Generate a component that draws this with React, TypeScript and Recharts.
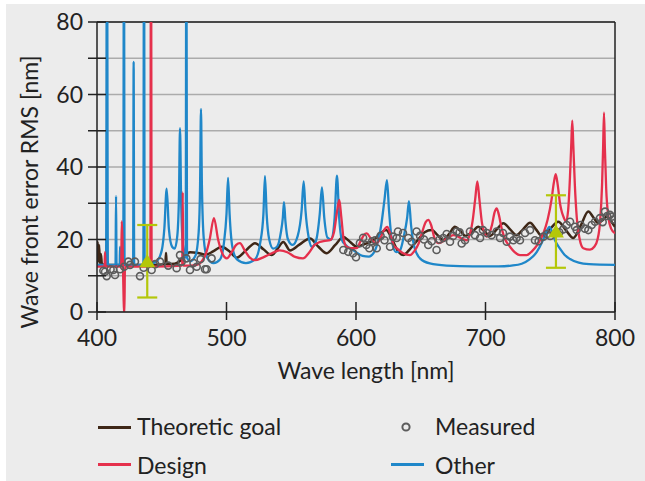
import {
  ComposedChart,
  Line,
  Scatter,
  ErrorBar,
  XAxis,
  YAxis,
  CartesianGrid,
  ReferenceLine,
} from "recharts";

type Pt = [number, number];

const FONT = "Lato, 'Noto Sans', sans-serif";
const TEXT = "#222";

const xTicks = [400, 500, 600, 700, 800];
const yTicks = [0, 10, 20, 30, 40, 50, 60, 70, 80];

// wave length [nm], wave front error RMS [nm]
const goalPts: Pt[] = [
  [400, 13], [400.5, 19.4], [401, 14], [401.6, 18.5], [402.2, 13.5], [403, 16], [403.8, 13.2],
  [410, 13], [420, 13], [430, 13], [440, 13], [452.8, 13.2], [453.3, 16.3], [453.8, 13.2],
  [460, 13.3], [465, 14.3], [471.8, 16.5], [478, 16.3], [484, 15.8], [490, 16.8], [496.3, 18],
  [502, 16.8], [507.9, 15], [515, 17], [522, 19], [528.5, 17.3], [534.9, 15.7], [539.5, 17.5],
  [543.9, 19.3], [549, 17], [556, 18.5], [564.5, 20.3], [571, 18], [577.4, 16.2], [584, 18.5],
  [590.2, 20.7], [595.5, 19.3], [600.5, 18], [607, 18.8], [613.4, 19.8], [618.5, 21.5],
  [623.2, 22.6], [628, 20], [632, 17], [636.5, 15.7], [642, 17.5], [648, 20], [653, 22],
  [658.4, 22.6], [663, 21.2], [667.4, 19.8], [672, 21.6], [676.4, 23.5], [680.3, 22.5],
  [684.5, 21], [689.5, 22], [694.4, 23.5], [699, 22.3], [703.5, 21], [708.5, 22.7], [713.8, 24.5],
  [719, 22.8], [724, 21.2], [729, 22.8], [734.4, 24.6], [739, 22.8], [743.4, 21], [750, 23],
  [756.2, 24.9], [762, 22.6], [767.8, 20.4], [773.5, 23.8], [779.4, 27.7], [783.5, 26],
  [787.1, 24.5], [790.5, 25.4], [793.6, 26.3], [797, 25], [800, 23.5],
];

const designPts: Pt[] = [
  [400, 12.5], [405.8, 12.5], [406.2, 16.5], [406.6, 12.5], [418.7, 12.5], [419.1, 25],
  [421.1, -1], [421.6, 12.5], [441.2, 12.5], [441.7, 120], [442.2, 12.5], [465.8, 12.8],
  [466.2, 33], [466.6, 12.8], [472, 12.8], [477, 13], [481, 14], [484, 16], [487, 20],
  [490.3, 25.9], [493.5, 20], [497, 16], [500.2, 14.8], [504, 16.5], [507.5, 18.5], [510.4, 19],
  [514, 17], [518, 15], [522, 14.3], [528, 15], [535, 16.2], [541, 17], [547, 16.5], [553, 15.2],
  [559, 14.8], [564, 16.5], [568, 18.5], [572, 19.3], [576, 19.6], [580, 19.8], [583, 22],
  [585.5, 28], [587.1, 30.9], [588.7, 26], [590.5, 20], [592.8, 18], [596.5, 17.6], [600.5, 17.6],
  [603.5, 19.5], [606, 21.2], [608.3, 21.7], [611, 20.5], [613.5, 19.3], [616, 19], [619, 20.5],
  [621.5, 22.5], [624.2, 23.5], [626.5, 21.5], [629, 18.5], [631.4, 17.6], [636, 16.3],
  [641.7, 15.7], [645, 16.8], [648.5, 19], [651.5, 22.5], [653.8, 24.8], [655.8, 25.4], [658, 24],
  [660.5, 20.5], [663.6, 19], [667.5, 19.6], [671, 20.5], [675.1, 21.2], [679, 20.8], [682, 20.2],
  [685.5, 19.8], [688, 21.5], [690, 25], [692, 31], [693.7, 36], [695.3, 31], [697.3, 24.5],
  [699, 22], [700.9, 20.8], [703, 21.8], [705, 24], [707, 27.5], [708.6, 28.6], [710.2, 27],
  [712.5, 23], [715.5, 19.8], [718.9, 18], [722.5, 16.5], [726.6, 15.7], [731.8, 15.7], [736, 16.8],
  [740, 18.5], [744.7, 21.7], [748, 25.5], [751, 31], [752.7, 35.5], [754.2, 38], [755.8, 35],
  [757.5, 30], [759, 27.5], [760.5, 26], [762.2, 24.9], [763.8, 28], [765.2, 37], [766.2, 46],
  [767, 52.8], [767.8, 46], [769, 35], [770.5, 26], [772.5, 20.5], [775.5, 17.6], [780.7, 17.2],
  [784, 18], [786.5, 20], [788.5, 25], [790, 35], [790.8, 45], [791.5, 55], [792.2, 45], [793.2, 34],
  [795, 26], [797, 23], [800, 21.7],
];

const otherPts: Pt[] = [
  [400, 13], [407, 13], [407.7, 120], [408.4, 13], [414.3, 13], [414.7, 32], [415.1, 13],
  [417.5, 13], [417.8, 18], [418.1, 13], [420.3, 13], [420.8, 120], [421.3, 13], [427.9, 13],
  [428.3, 69], [428.7, 13], [435.8, 13], [436.3, 120], [436.8, 13], [446, 14], [450, 17],
  [452, 23], [453.8, 34], [455.5, 23], [458, 18], [460, 17.5], [462, 21], [463.3, 32], [464.1, 50.7],
  [465, 30], [466.5, 18], [468.5, 15], [469, 120], [469.5, 15], [472, 14], [476, 15.5], [478.5, 22],
  [479.6, 35], [480.3, 56], [481, 35], [482.5, 20], [485, 15], [490, 13.5], [495, 14.5], [498, 19],
  [500, 27], [501.2, 37], [502.4, 27], [504.5, 18], [508, 14.5], [515, 13.5], [522, 14.5], [526, 19],
  [528.5, 27], [529.7, 37.5], [531, 27], [533, 20], [536, 17.5], [539, 18], [542, 22], [543.5, 26],
  [544.4, 30.3], [545.5, 25], [547.5, 20], [551, 18.5], [555, 21], [558, 28], [559.6, 36], [561, 28],
  [563.5, 20.5], [566, 18], [569, 19.5], [572, 27], [573.7, 34.4], [575.5, 26], [578, 20.5],
  [581, 20], [583.5, 26], [585.3, 37.6], [587, 26], [589, 20], [592, 18.5], [598, 17], [605, 15.5],
  [610, 15.3], [614, 16.5], [617, 19.5], [619.5, 24], [622, 31], [623.9, 36.4], [625.5, 28],
  [628, 19], [631, 16.5], [634, 17], [637, 21], [639.5, 26], [640.9, 30.6], [642.5, 24], [645, 18],
  [649.4, 14.8], [657, 13.4], [670, 12.8], [690, 12.6], [710, 12.6], [720, 12.8], [728, 13.3],
  [734, 14.5], [739.5, 16.5], [744, 19.5], [747.5, 22.5], [749.3, 23.5], [751.5, 22], [754, 19.5],
  [757.5, 17.5], [761, 15.8], [765.3, 14.6], [772, 13.6], [780, 13.2], [800, 13],
];

const measuredPts: Pt[] = [
  [404.9, 11.4], [406.2, 11.1], [407.5, 9.9], [410.5, 11.8], [412.6, 11.6], [413.9, 10.2],
  [417.8, 11.8], [421, 12.5], [424.2, 13.9], [425.5, 13], [429.3, 13.9], [433.2, 9.9], [436, 12.2],
  [442.2, 11.6], [445, 13.2], [448.6, 13.9], [455, 12.8], [461.5, 12.1], [464.1, 15.7],
  [465.4, 13.9], [469, 14.8], [471.8, 11.6], [474.5, 13.5], [477, 12.5], [480, 14.6], [483.4, 11.8],
  [484.7, 11.8], [488.5, 14.8],
  [590.2, 17.1], [594, 16.6], [597.7, 16.2], [600, 15.1], [603, 19], [605.5, 20.5], [608, 18.5],
  [610.3, 17.6], [612.5, 19.5], [614.7, 19.8], [616, 17.6], [619, 21], [622, 19.8], [626.3, 18],
  [628.5, 20.8], [631.4, 20.4], [632.4, 22.2], [636.3, 21.8], [640.4, 20.4], [643, 19.4],
  [646.8, 22.2], [649.5, 21], [652.5, 20], [655.8, 18.5], [658.5, 19.5], [662.2, 17.1], [664.5, 20],
  [667.4, 20.4], [670, 21.5], [672.6, 19.4], [675, 21], [677.8, 22.2], [680, 22], [681.6, 18.9],
  [684.2, 19.8], [688, 22.2], [691.9, 21.2], [695.8, 20.4], [698, 22.6], [701, 21.8], [704.7, 21.2],
  [708.6, 22.2], [711.2, 20.4], [713.5, 21.8], [716.4, 19.4], [718.9, 20.8], [721.5, 19.8],
  [724, 20.4], [726.6, 19.8], [730.5, 21.8], [734.4, 22.6], [738.2, 19.8], [741, 19.5],
  [744.7, 20.8], [747.5, 21.5], [750, 21], [757, 22], [760, 22.8], [762.7, 24], [765.3, 24.9],
  [769.1, 23.5], [770.4, 22.6], [773.5, 24], [776.8, 23], [779.4, 22.6], [782, 24], [784.6, 24.9],
  [788.4, 25.9], [790.5, 24.8], [792.3, 27.7], [794, 26.5], [796.1, 26.8], [797.4, 26.3], [799, 25.5],
];

// x, y, +/- error
const markerPts: [number, number, number][] = [
  [438.8, 14, 10],
  [754.4, 22.2, 10],
];

const COLORS = {
  goal: "#3e2717",
  design: "#e5304c",
  other: "#1f87c9",
  measured: "#5c5c5c",
  marker: "#b4c70a",
};

const rows = (pts: Pt[]) => pts.map(([x, y]) => ({ x, y }));
const markerRows = markerPts.map(([x, y, err]) => ({ x, y, err }));

const XTick = ({ x, y, payload }: any) => (
  <g>
    <line x1={x} x2={x} y1={y - 10} y2={y + 8} stroke={TEXT} strokeWidth={1.5} />
    <text x={x} y={y + 34} textAnchor="middle" fontSize={23} fill={TEXT} fontFamily={FONT}>
      {payload.value}
    </text>
  </g>
);

const YTick = ({ x, y, payload }: any) => (
  <g>
    <line x1={x - 9} x2={x + 9} y1={y} y2={y} stroke={TEXT} strokeWidth={1.5} />
    {payload.value % 20 === 0 && (
      <text x={x - 14} y={y + 8} textAnchor="end" fontSize={23} fill={TEXT} fontFamily={FONT}>
        {payload.value}
      </text>
    )}
  </g>
);

const Ring = ({ cx, cy }: any) => (
  <circle cx={cx} cy={cy} r={3.5} fill="none" stroke={COLORS.measured} strokeWidth={1.6} />
);

const Triangle = ({ cx, cy }: any) => (
  <path d={`M${cx},${cy - 7} L${cx + 8},${cy + 6} L${cx - 8},${cy + 6} Z`} fill={COLORS.marker} />
);

const legendText: React.CSSProperties = {
  position: "absolute",
  fontFamily: FONT,
  fontSize: 23,
  color: TEXT,
  lineHeight: "24px",
  whiteSpace: "nowrap",
};

function LegendLine({ x, y, color }: { x: number; y: number; color: string }) {
  return (
    <div
      style={{ position: "absolute", left: x, top: y - 1.5, width: 33, height: 3, background: color }}
    />
  );
}

export default function App() {
  return (
    <div style={{ position: "fixed", left: 0, top: 0, width: 645, height: 481, background: "#fff" }}>
      <div style={{ position: "absolute", left: 6, top: 4, right: 0, bottom: 0, background: "#ececec" }} />
      <div style={{ position: "absolute", left: 0, top: 0 }}>
        <ComposedChart
          width={645}
          height={481}
          margin={{ top: 22, right: 30, left: 37, bottom: 109 }}
        >
          <CartesianGrid vertical={false} stroke="#ababab" strokeWidth={1.5} />
          <XAxis
            type="number"
            dataKey="x"
            domain={[400, 800]}
            ticks={xTicks}
            interval={0}
            allowDataOverflow
            height={60}
            tickSize={0}
            tickMargin={0}
            tickLine={false}
            tick={<XTick />}
            axisLine={{ stroke: TEXT, strokeWidth: 1.5 }}
          />
          <YAxis
            type="number"
            domain={[0, 80]}
            ticks={yTicks}
            interval={0}
            allowDataOverflow
            width={60}
            tickSize={0}
            tickMargin={0}
            tickLine={false}
            tick={<YTick />}
            axisLine={{ stroke: TEXT, strokeWidth: 1.5 }}
          />
          <ReferenceLine y={80} stroke={TEXT} strokeWidth={1.5} />
          <ReferenceLine x={800} stroke={TEXT} strokeWidth={1.5} />
          <Scatter
            data={rows(measuredPts)}
            dataKey="y"
            shape={<Ring />}
            isAnimationActive={false}
          />
          <Line
            data={rows(goalPts)}
            dataKey="y"
            type="monotone"
            stroke={COLORS.goal}
            strokeWidth={2.5}
            dot={false}
            isAnimationActive={false}
          />
          <Line
            data={rows(otherPts)}
            dataKey="y"
            type="monotone"
            stroke={COLORS.other}
            strokeWidth={2.3}
            dot={false}
            isAnimationActive={false}
          />
          <Line
            data={rows(designPts)}
            dataKey="y"
            type="monotone"
            stroke={COLORS.design}
            strokeWidth={2.3}
            dot={false}
            isAnimationActive={false}
          />
          <Scatter data={markerRows} dataKey="y" shape={<Triangle />} isAnimationActive={false}>
            <ErrorBar dataKey="err" direction="y" width={10} stroke={COLORS.marker} strokeWidth={2.2} />
          </Scatter>
        </ComposedChart>
      </div>

      {/* axis titles */}
      <div style={{ ...legendText, fontSize: 23, left: 366, top: 358, transform: "translateX(-50%)" }}>
        Wave length [nm]
      </div>
      <div
        style={{
          ...legendText,
          fontSize: 23,
          left: 29,
          top: 192,
          transform: "translate(-50%, -50%) rotate(-90deg)",
        }}
      >
        Wave front error RMS [nm]
      </div>

      {/* legend */}
      <LegendLine x={98} y={427} color={COLORS.goal} />
      <div style={{ ...legendText, left: 137, top: 414 }}>Theoretic goal</div>
      <LegendLine x={98} y={464} color={COLORS.design} />
      <div style={{ ...legendText, left: 137, top: 453 }}>Design</div>
      <svg style={{ position: "absolute", left: 400, top: 421 }} width={12} height={12}>
        <circle cx={6} cy={6} r={3.6} fill="none" stroke={COLORS.measured} strokeWidth={2} />
      </svg>
      <div style={{ ...legendText, left: 435, top: 414 }}>Measured</div>
      <LegendLine x={391} y={464} color={COLORS.other} />
      <div style={{ ...legendText, left: 435, top: 453 }}>Other</div>
    </div>
  );
}
